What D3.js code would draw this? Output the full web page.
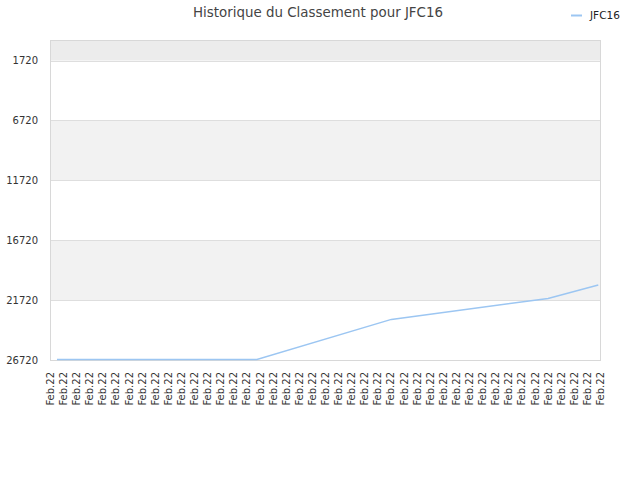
<!DOCTYPE html>
<html><head><meta charset="utf-8">
<script src="https://cdn.jsdelivr.net/npm/d3@7"></script>
<style>
html,body{margin:0;padding:0;background:#fff;}
svg{display:block;font-family:"DejaVu Sans",sans-serif;}
</style></head>
<body>
<svg id="chart" width="640" height="480"></svg>
<script>
// ---- data ----
const title = "Historique du Classement pour JFC16";
const seriesName = "JFC16";
const pointDates = ["2022-02-01T08:00","2022-02-10T21:00","2022-02-17T07:00","2022-02-24T18:30","2022-02-27T04:00"];
const rankValues = [26680, 26680, 23330, 21580, 20450];
const yTicks = [1720, 6720, 11720, 16720, 21720, 26720];
const xTickLabels = ["Feb.22","Feb.22","Feb.22","Feb.22","Feb.22","Feb.22","Feb.22","Feb.22","Feb.22","Feb.22",
  "Feb.22","Feb.22","Feb.22","Feb.22","Feb.22","Feb.22","Feb.22","Feb.22","Feb.22","Feb.22",
  "Feb.22","Feb.22","Feb.22","Feb.22","Feb.22","Feb.22","Feb.22","Feb.22","Feb.22","Feb.22",
  "Feb.22","Feb.22","Feb.22","Feb.22","Feb.22","Feb.22","Feb.22","Feb.22","Feb.22","Feb.22",
  "Feb.22","Feb.22","Feb.22"];
const xStart = "2022-02-01T00:00";
const xEnd = "2022-02-27T06:00";
const yDomain = [1, 26720];

(function () {
// ---- layout ----
const parse = d3.timeParse("%Y-%m-%dT%H:%M");
const mL = 50, mR = 600, mT = 40, mB = 360;
const svg = d3.select("#chart");

const x = d3.scaleTime().domain([parse(xStart), parse(xEnd)]).range([mL, mR]);
const y = d3.scaleLinear().domain(yDomain).range([mT, mB]);

const t0 = parse(xStart).getTime(), t1 = parse(xEnd).getTime();
const tickDates = xTickLabels.map((_, i) => new Date(t0 + (t1 - t0) * i / (xTickLabels.length - 1)));

// bands
const bandEdges = [yDomain[0], ...yTicks];
for (let i = 0; i < bandEdges.length - 1; i++) {
  let fill = null;
  if (i === 0) fill = "#ececec";
  else if (i % 2 === 0) fill = "#f2f2f2";
  if (fill) {
    svg.append("rect")
      .attr("x", mL).attr("width", mR - mL)
      .attr("y", y(bandEdges[i])).attr("height", y(bandEdges[i + 1]) - y(bandEdges[i]))
      .attr("fill", fill);
  }
}
// gridlines
svg.append("g").selectAll("line").data(yTicks).join("line")
  .attr("x1", mL).attr("x2", mR)
  .attr("y1", d => Math.round(y(d)) + 0.5).attr("y2", d => Math.round(y(d)) + 0.5)
  .attr("stroke", "#dedede").attr("stroke-width", 1);

// plot border
svg.append("rect").attr("x", mL + 0.5).attr("y", mT + 0.5)
  .attr("width", mR - mL).attr("height", mB - mT)
  .attr("fill", "none").attr("stroke", "#d8d8d8").attr("stroke-width", 1);

// y labels
const yAxis = d3.axisLeft(y).tickValues(yTicks).tickSize(0).tickPadding(0).tickFormat(d3.format("d"));
const gy = svg.append("g").attr("transform", `translate(${mL - 12},0)`).call(yAxis);
gy.select(".domain").remove();
gy.selectAll("text").attr("font-size", 10).attr("fill", "#333").attr("font-family", "DejaVu Sans, sans-serif");

// x labels
const xAxis = d3.axisBottom(x).tickValues(tickDates).tickSize(0).tickFormat((d, i) => xTickLabels[i]);
const gx = svg.append("g").attr("transform", `translate(0,${mB})`).call(xAxis);
gx.select(".domain").remove();
gx.selectAll("text")
  .attr("font-size", 10).attr("fill", "#333").attr("font-family", "DejaVu Sans, sans-serif")
  .attr("text-anchor", "end")
  .attr("transform", "rotate(-90)")
  .attr("x", -12).attr("y", 0).attr("dy", "0.35em");

// line
const pts = pointDates.map((d, i) => ({ date: parse(d), v: rankValues[i] }));
const line = d3.line().x(d => x(d.date)).y(d => y(d.v));
svg.append("path").datum(pts).attr("d", line)
  .attr("fill", "none").attr("stroke", "#9cc6f2").attr("stroke-width", 1.5);

// title
svg.append("text").attr("x", 318).attr("y", 17).attr("text-anchor", "middle")
  .attr("font-size", 13.4).attr("fill", "#444").text(title);

// legend
svg.append("line").attr("x1", 571).attr("x2", 582).attr("y1", 15.5).attr("y2", 15.5)
  .attr("stroke", "#9cc6f2").attr("stroke-width", 2);
svg.append("text").attr("x", 590).attr("y", 19).attr("font-size", 10.5).attr("fill", "#222").text(seriesName);
})();
</script>
</body></html>
